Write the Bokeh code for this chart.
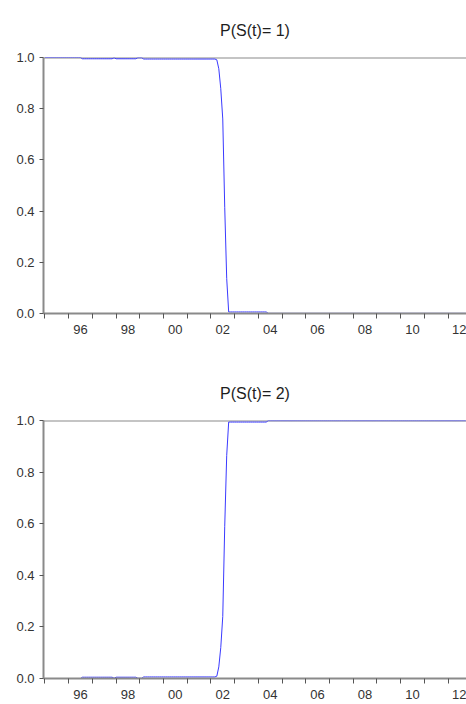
from bokeh.plotting import figure
from bokeh.layouts import column
from bokeh.models import Range1d, FixedTicker, PrintfTickFormatter, Span, ColumnDataSource
from bokeh.embed import file_html
from bokeh.resources import INLINE

# ---------------- data (monthly, Jan 1995 .. Oct 2012) ----------------
start_year = 1995
start_month = 1

titles = ["P(S(t)= 1)", "P(S(t)= 2)"]

p_state1 = [
    1.0, 1.0, 1.0, 1.0, 1.0, 1.0, 1.0, 1.0, 1.0, 1.0, 1.0, 1.0,                      # 1995
    1.0, 1.0, 1.0, 1.0, 1.0, 1.0, 1.0, 0.995, 0.995, 0.995, 0.995, 0.995,            # 1996
    0.995, 0.995, 0.995, 0.995, 0.995, 0.995, 0.995, 0.995, 0.995, 0.995, 0.995, 0.999,  # 1997
    0.995, 0.995, 0.995, 0.995, 0.995, 0.995, 0.995, 0.995, 0.995, 0.995, 0.995, 0.999,  # 1998
    0.999, 0.999, 0.994, 0.994, 0.994, 0.994, 0.994, 0.994, 0.994, 0.994, 0.994, 0.994,  # 1999
    0.994, 0.994, 0.994, 0.994, 0.994, 0.994, 0.994, 0.994, 0.994, 0.994, 0.994, 0.994,  # 2000
    0.994, 0.994, 0.994, 0.994, 0.994, 0.994, 0.994, 0.994, 0.994, 0.994, 0.994, 0.994,  # 2001
    0.994, 0.994, 0.994, 0.991, 0.956, 0.878, 0.760, 0.415, 0.136, 0.006, 0.006, 0.006,  # 2002
    0.006, 0.006, 0.006, 0.006, 0.006, 0.006, 0.006, 0.006, 0.006, 0.006, 0.006, 0.006,  # 2003
    0.006, 0.006, 0.006, 0.006, 0.006, 0.0005, 0.0005, 0.0005, 0.0005, 0.0005, 0.0005, 0.0005,  # 2004
    0.0005, 0.0005, 0.0005, 0.0005, 0.0005, 0.0005, 0.0005, 0.0005, 0.0005, 0.0005, 0.0005, 0.0005,  # 2005
    0.0005, 0.0005, 0.0005, 0.0005, 0.0005, 0.0005, 0.0005, 0.0005, 0.0005, 0.0005, 0.0005, 0.0005,  # 2006
    0.0005, 0.0005, 0.0005, 0.0005, 0.0005, 0.0005, 0.0005, 0.0005, 0.0005, 0.0005, 0.0005, 0.0005,  # 2007
    0.0005, 0.0005, 0.0005, 0.0005, 0.0005, 0.0005, 0.0005, 0.0005, 0.0005, 0.0005, 0.0005, 0.0005,  # 2008
    0.0005, 0.0005, 0.0005, 0.0005, 0.0005, 0.0005, 0.0005, 0.0005, 0.0005, 0.0005, 0.0005, 0.0005,  # 2009
    0.0005, 0.0005, 0.0005, 0.0005, 0.0005, 0.0005, 0.0005, 0.0005, 0.0005, 0.0005, 0.0005, 0.0005,  # 2010
    0.0005, 0.0005, 0.0005, 0.0005, 0.0005, 0.0005, 0.0005, 0.0005, 0.0005, 0.0005, 0.0005, 0.0005,  # 2011
    0.0005, 0.0005, 0.0005, 0.0005, 0.0005, 0.0005, 0.0005, 0.0005, 0.0005, 0.0005,                  # 2012
]

p_state2 = [
    0.0, 0.0, 0.0, 0.0, 0.0, 0.0, 0.0, 0.0, 0.0, 0.0, 0.0, 0.0,                      # 1995
    0.0, 0.0, 0.0, 0.0, 0.0, 0.0, 0.0, 0.005, 0.005, 0.005, 0.005, 0.005,            # 1996
    0.005, 0.005, 0.005, 0.005, 0.005, 0.005, 0.005, 0.005, 0.005, 0.005, 0.005, 0.001,  # 1997
    0.005, 0.005, 0.005, 0.005, 0.005, 0.005, 0.005, 0.005, 0.005, 0.005, 0.005, 0.001,  # 1998
    0.001, 0.001, 0.006, 0.006, 0.006, 0.006, 0.006, 0.006, 0.006, 0.006, 0.006, 0.006,  # 1999
    0.006, 0.006, 0.006, 0.006, 0.006, 0.006, 0.006, 0.006, 0.006, 0.006, 0.006, 0.006,  # 2000
    0.006, 0.006, 0.006, 0.006, 0.006, 0.006, 0.006, 0.006, 0.006, 0.006, 0.006, 0.006,  # 2001
    0.006, 0.006, 0.006, 0.009, 0.045, 0.120, 0.240, 0.590, 0.865, 0.994, 0.994, 0.994,  # 2002
    0.994, 0.994, 0.994, 0.994, 0.994, 0.994, 0.994, 0.994, 0.994, 0.994, 0.994, 0.994,  # 2003
    0.994, 0.994, 0.994, 0.994, 0.994, 0.9995, 0.9995, 0.9995, 0.9995, 0.9995, 0.9995, 0.9995,  # 2004
    0.9995, 0.9995, 0.9995, 0.9995, 0.9995, 0.9995, 0.9995, 0.9995, 0.9995, 0.9995, 0.9995, 0.9995,  # 2005
    0.9995, 0.9995, 0.9995, 0.9995, 0.9995, 0.9995, 0.9995, 0.9995, 0.9995, 0.9995, 0.9995, 0.9995,  # 2006
    0.9995, 0.9995, 0.9995, 0.9995, 0.9995, 0.9995, 0.9995, 0.9995, 0.9995, 0.9995, 0.9995, 0.9995,  # 2007
    0.9995, 0.9995, 0.9995, 0.9995, 0.9995, 0.9995, 0.9995, 0.9995, 0.9995, 0.9995, 0.9995, 0.9995,  # 2008
    0.9995, 0.9995, 0.9995, 0.9995, 0.9995, 0.9995, 0.9995, 0.9995, 0.9995, 0.9995, 0.9995, 0.9995,  # 2009
    0.9995, 0.9995, 0.9995, 0.9995, 0.9995, 0.9995, 0.9995, 0.9995, 0.9995, 0.9995, 0.9995, 0.9995,  # 2010
    0.9995, 0.9995, 0.9995, 0.9995, 0.9995, 0.9995, 0.9995, 0.9995, 0.9995, 0.9995, 0.9995, 0.9995,  # 2011
    0.9995, 0.9995, 0.9995, 0.9995, 0.9995, 0.9995, 0.9995, 0.9995, 0.9995, 0.9995,                  # 2012
]

tick_years = [1995, 1996, 1997, 1998, 1999, 2000, 2001, 2002, 2003, 2004,
              2005, 2006, 2007, 2008, 2009, 2010, 2011, 2012]
label_years = [1996, 1998, 2000, 2002, 2004, 2006, 2008, 2010, 2012]
tick_labels = ["96", "98", "00", "02", "04", "06", "08", "10", "12"]
y_ticks = [0.0, 0.2, 0.4, 0.6, 0.8, 1.0]

# time axis (decimal years) for the monthly observations
t = [start_year + (start_month - 1 + i) / 12.0 for i in range(len(p_state1))]

FONT = "Liberation Sans"
AXIS_COLOR = "#8a8a8a"
TICK_COLOR = "#555555"
LABEL_COLOR = "#333333"


def make_panel(title, values, height, border_top, border_bottom):
    p = figure(width=466, height=height,
               x_range=Range1d(1994.94, 2012.78), y_range=Range1d(0.0, 1.0),
               output_backend="svg", toolbar_location=None,
               min_border_left=43, min_border_right=0,
               min_border_top=border_top, min_border_bottom=border_bottom)
    p.title.text = title
    p.title.align = "center"
    p.title.text_font = FONT
    p.title.text_font_size = "16px"
    p.title.text_font_style = "normal"
    p.title.text_color = "#1e1e1e"
    p.title.standoff = 38

    p.outline_line_color = None
    p.xgrid.grid_line_color = None
    p.ygrid.grid_line_color = None
    p.background_fill_color = "white"
    p.border_fill_color = "white"

    # x axis: small ticks at each year start, labels centred in even years
    xa = p.xaxis[0]
    major = [y + 0.5 for y in label_years]
    xa.ticker = FixedTicker(ticks=major, minor_ticks=tick_years)
    xa.major_label_overrides = {m: lbl for m, lbl in zip(major, tick_labels)}
    xa.major_tick_line_color = None
    xa.major_tick_out = 5
    xa.major_tick_in = 0
    xa.minor_tick_line_color = TICK_COLOR
    xa.minor_tick_out = 5
    xa.minor_tick_in = 0
    xa.axis_line_color = AXIS_COLOR
    xa.axis_line_width = 2
    xa.major_label_standoff = 6
    xa.major_label_text_font = FONT
    xa.major_label_text_font_size = "13px"
    xa.major_label_text_color = LABEL_COLOR

    ya = p.yaxis[0]
    ya.ticker = FixedTicker(ticks=y_ticks)
    ya.formatter = PrintfTickFormatter(format="%.1f")
    ya.major_tick_line_color = TICK_COLOR
    ya.major_tick_out = 4
    ya.major_tick_in = 0
    ya.minor_tick_line_color = None
    ya.axis_line_color = AXIS_COLOR
    ya.axis_line_width = 2
    ya.major_label_standoff = 5
    ya.major_label_text_font = FONT
    ya.major_label_text_font_size = "13px"
    ya.major_label_text_color = LABEL_COLOR

    top = Span(location=1.0, dimension="width", line_color=AXIS_COLOR,
               line_width=2, level="underlay")
    p.add_layout(top)

    src = ColumnDataSource(data=dict(t=t, v=values))
    p.line("t", "v", source=src, line_color="#3a3aff", line_width=1)
    return p


p1 = make_panel(titles[0], p_state1, 363, 57, 50)
p2 = make_panel(titles[1], p_state2, 341, 57, 26)

layout = column(p1, p2, spacing=0)

with open("out.html", "w") as f:
    f.write(file_html(layout, INLINE))
